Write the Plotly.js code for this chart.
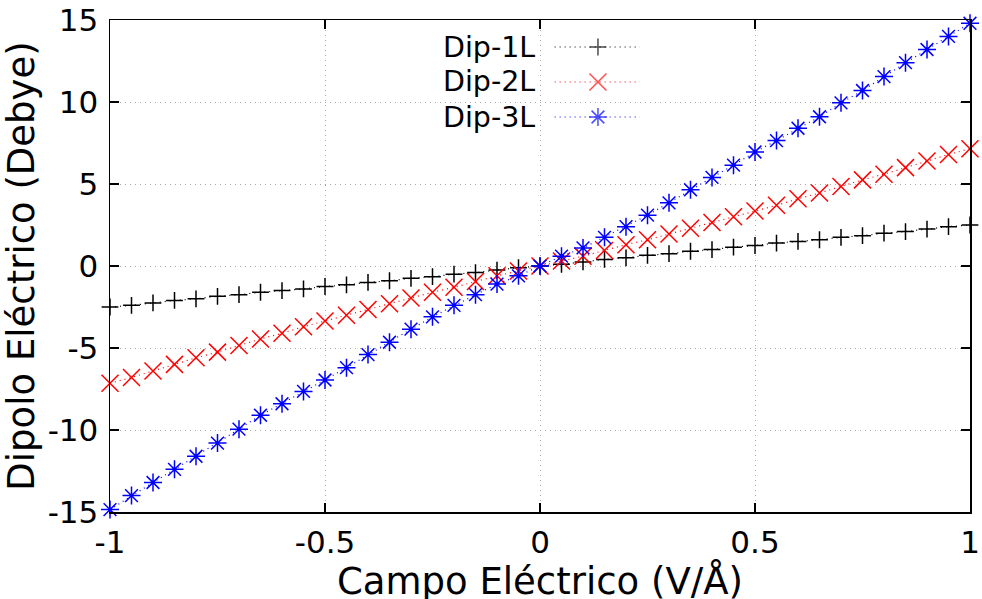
<!DOCTYPE html>
<html>
<head>
<meta charset="utf-8">
<script src="https://cdn.plot.ly/plotly-3.0.1.min.js"></script>
<style>html,body{margin:0;padding:0;background:#fff}#chart{width:982px;height:599px}</style>
</head>
<body>
<div id="chart"></div>
<script>
// Electric field (V/Å)
const campo = [-1,-0.95,-0.9,-0.85,-0.8,-0.75,-0.7,-0.65,-0.6,-0.55,-0.5,-0.45,-0.4,-0.35,-0.3,-0.25,-0.2,-0.15,-0.1,-0.05,0,
  0.05,0.1,0.15,0.2,0.25,0.3,0.35,0.4,0.45,0.5,0.55,0.6,0.65,0.7,0.75,0.8,0.85,0.9,0.95,1];
const dip1L = [-2.5,-2.4,-2.25,-2.1,-2.0,-1.85,-1.75,-1.6,-1.5,-1.4,-1.25,-1.15,-1.0,-0.9,-0.75,-0.65,-0.5,-0.4,-0.25,-0.1,0,
  0.1,0.25,0.4,0.5,0.65,0.75,0.9,1.0,1.15,1.25,1.4,1.5,1.6,1.75,1.85,2.0,2.1,2.25,2.4,2.5];
const dip2L = [-7.15,-6.8,-6.4,-6.0,-5.6,-5.25,-4.85,-4.45,-4.1,-3.7,-3.35,-3.0,-2.65,-2.3,-1.95,-1.6,-1.3,-0.95,-0.6,-0.3,0,
  0.3,0.6,0.95,1.3,1.6,1.95,2.3,2.65,3.0,3.35,3.7,4.1,4.45,4.85,5.25,5.6,6.0,6.4,6.8,7.15];
const dip3L = [-14.85,-14.0,-13.2,-12.4,-11.6,-10.8,-9.95,-9.1,-8.4,-7.65,-6.95,-6.2,-5.4,-4.65,-3.85,-3.1,-2.4,-1.75,-1.1,-0.6,0,
  0.6,1.1,1.75,2.4,3.1,3.85,4.65,5.4,6.15,6.95,7.65,8.4,9.1,9.95,10.7,11.55,12.4,13.2,14.0,14.8];
const seriesNames = ["Dip-1L","Dip-2L","Dip-3L"];
const yTicks = [-15,-10,-5,0,5,10,15];
const xTicks = [-1,-0.5,0,0.5,1];
const xTitle = "Campo Eléctrico (V/Å)";
const yTitle = "Dipolo Eléctrico (Debye)";

const colors = ["#000000","#ff0000","#0000ff"];
const symbols = ["cross-thin-open","x-thin-open","asterisk-open"];
const sizes = [12,17,15];
const ys = [dip1L, dip2L, dip3L];

const traces = ys.map((y,i)=>({
  x: campo, y: y, type:"scatter", mode:"lines+markers", name: seriesNames[i],
  cliponaxis:false, showlegend:false,
  line:{color:colors[i], width:1.2, dash:"1px,4px"},
  marker:{symbol:symbols[i], size:sizes[i], color:colors[i], line:{color:colors[i], width:1.5}}
}));

// gnuplot-style key (text on left, sample on right)
const keyY = [0.9451, 0.874, 0.8028];
const keyX0 = 0.517, keyXm = 0.5674, keyX1 = 0.616;
seriesNames.forEach((n,i)=>{
  traces.push({
    x:[keyX0,keyXm,keyX1], y:[keyY[i],keyY[i],keyY[i]], xaxis:"x2", yaxis:"y2",
    type:"scatter", mode:"lines+markers", showlegend:false, hoverinfo:"skip", cliponaxis:false,
    line:{color:colors[i], width:1.2, dash:"1px,4px"},
    marker:{symbol:symbols[i], size:[0,sizes[i],0], color:colors[i], line:{color:colors[i], width:1.5}}
  });
});

const font = {family:"DejaVu Sans, sans-serif", color:"#000"};
const annotations = seriesNames.map((n,i)=>({
  xref:"paper", yref:"paper", x:0.4965, y:keyY[i], xanchor:"right", yanchor:"middle",
  text:n, showarrow:false, font:{family:font.family, size:28.5, color:"#000"}
}));
annotations.push({
  xref:"paper", yref:"paper", x:0.5, y:-0.14, xanchor:"center", yanchor:"middle",
  text:xTitle, showarrow:false, font:{family:font.family, size:37, color:"#000"}
});

const layout = {
  width:982, height:599,
  margin:{l:110, r:12, t:20, b:87},
  paper_bgcolor:"#fff", plot_bgcolor:"#fff",
  font: font,
  showlegend:false,
  xaxis:{
    range:[-1,1], tickvals:xTicks, ticktext:xTicks.map(String),
    ticks:"inside", ticklen:9, tickwidth:1.5, tickcolor:"#000",
    showline:true, linecolor:"#000", linewidth:1.5, mirror:"ticks",
    showgrid:true, gridcolor:"#a8a8a8", griddash:"1px,4px", gridwidth:1,
    zeroline:false, tickfont:{size:31, color:"#000"},
    ticklabelstandoff:2
  },
  yaxis:{
    range:[-15,15], tickvals:yTicks, ticktext:yTicks.map(String),
    ticks:"inside", ticklen:9, tickwidth:1.5, tickcolor:"#000",
    showline:true, linecolor:"#000", linewidth:1.5, mirror:"ticks",
    showgrid:true, gridcolor:"#a8a8a8", griddash:"1px,4px", gridwidth:1,
    zeroline:false, tickfont:{size:31, color:"#000"},
    ticklabelstandoff:4,
    title:{text:yTitle, font:{size:37, color:"#000"}, standoff:2}
  },
  xaxis2:{overlaying:"x", range:[0,1], visible:false, fixedrange:true},
  yaxis2:{overlaying:"y", range:[0,1], visible:false, fixedrange:true},
  annotations: annotations
};

Plotly.newPlot("chart", traces, layout, {displayModeBar:false, staticPlot:true});
</script>
</body>
</html>
